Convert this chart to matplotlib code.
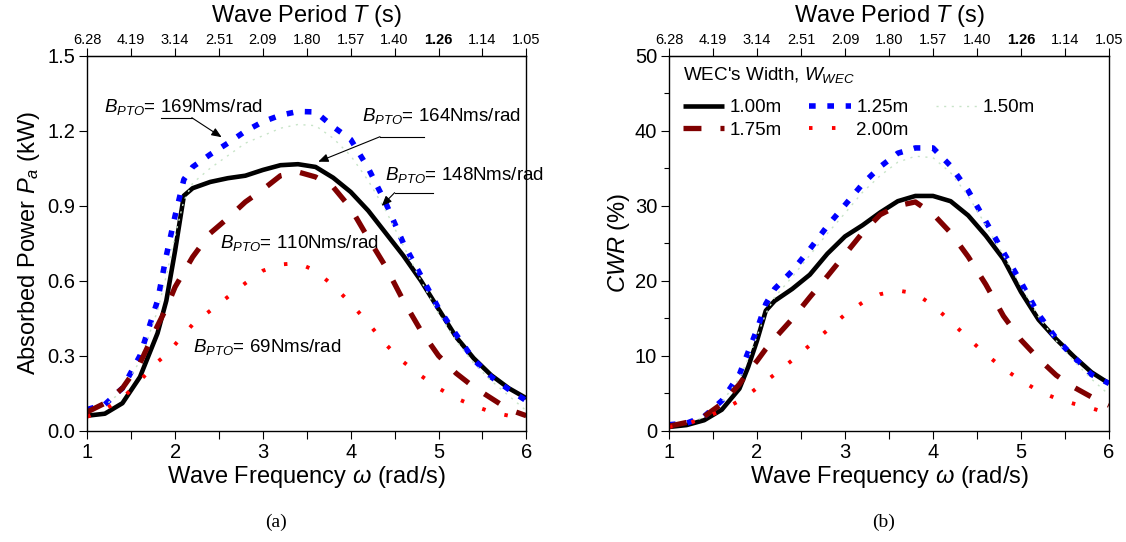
import numpy as np
import matplotlib
matplotlib.use("Agg")
import matplotlib.pyplot as plt

plt.rcParams['font.family'] = ['Liberation Sans', 'DejaVu Sans']
plt.rcParams['mathtext.fontset'] = 'custom'
plt.rcParams['mathtext.rm'] = 'Liberation Sans'
plt.rcParams['mathtext.it'] = 'Liberation Sans:italic'
plt.rcParams['mathtext.bf'] = 'Liberation Sans:bold'

# ---------------- data ----------------
omega = [1.0, 1.2, 1.4, 1.6, 1.8, 1.9, 2.0, 2.1, 2.2, 2.4, 2.6, 2.8, 3.0, 3.2,
         3.4, 3.6, 3.8, 4.0, 4.2, 4.4, 4.6, 4.8, 5.0, 5.2, 5.4, 5.6, 5.8, 6.0]

# (a) absorbed power (kW)
pa_100 = [0.060, 0.068, 0.110, 0.215, 0.390, 0.520, 0.720, 0.940, 0.970, 0.995, 1.010, 1.020, 1.043, 1.062,
          1.066, 1.055, 1.012, 0.955, 0.880, 0.790, 0.700, 0.600, 0.487, 0.375, 0.290, 0.222, 0.170, 0.130]
pa_125 = [0.085, 0.105, 0.170, 0.300, 0.520, 0.700, 0.860, 1.005, 1.055, 1.105, 1.150, 1.198, 1.236, 1.262,
          1.277, 1.275, 1.216, 1.165, 1.050, 0.910, 0.750, 0.620, 0.490, 0.385, 0.285, 0.215, 0.165, 0.120]
pa_150 = [0.080, 0.100, 0.160, 0.280, 0.480, 0.620, 0.780, 0.920, 0.990, 1.050, 1.100, 1.150, 1.180, 1.210,
          1.225, 1.220, 1.170, 1.100, 1.000, 0.880, 0.740, 0.600, 0.470, 0.360, 0.270, 0.200, 0.140, 0.080]
pa_175 = [0.075, 0.110, 0.170, 0.270, 0.420, 0.490, 0.575, 0.635, 0.695, 0.790, 0.850, 0.915, 0.965, 1.020,
          1.035, 1.015, 0.975, 0.890, 0.770, 0.655, 0.520, 0.400, 0.300, 0.230, 0.175, 0.130, 0.085, 0.060]
pa_200 = [0.056, 0.085, 0.130, 0.200, 0.275, 0.305, 0.345, 0.385, 0.425, 0.480, 0.535, 0.590, 0.640, 0.665,
          0.670, 0.640, 0.580, 0.510, 0.430, 0.345, 0.275, 0.220, 0.170, 0.130, 0.100, 0.075, 0.060, 0.045]

# (b) capture width ratio (%)
cwr_100 = [0.5, 0.75, 1.4, 2.8, 5.6, 8.5, 12.0, 16.0, 17.3, 18.9, 20.8, 23.6, 25.9, 27.4,
           29.1, 30.6, 31.3, 31.3, 30.6, 28.7, 26.0, 22.9, 18.5, 14.8, 12.2, 9.9, 7.8, 6.3]
cwr_125 = [0.8, 1.0, 1.9, 4.0, 7.5, 10.5, 13.5, 16.9, 18.9, 21.3, 24.2, 27.3, 30.1, 32.9,
           35.2, 37.0, 37.7, 37.7, 35.3, 32.0, 27.9, 23.8, 19.8, 15.5, 12.3, 9.8, 7.5, 6.3]
cwr_150 = [0.7, 1.0, 1.8, 3.8, 7.0, 9.6, 12.6, 15.6, 17.8, 20.5, 23.4, 26.3, 29.0, 31.8,
           34.0, 35.8, 36.6, 36.4, 34.4, 31.3, 27.4, 23.4, 19.3, 15.2, 12.0, 9.3, 6.9, 4.8]
cwr_175 = [0.6, 1.1, 1.9, 3.6, 6.2, 7.9, 9.3, 10.9, 12.3, 14.9, 17.8, 20.6, 23.5, 26.4,
           28.8, 30.0, 30.5, 28.9, 26.4, 23.2, 19.5, 15.3, 12.1, 9.6, 7.4, 5.8, 4.5, 3.4]
cwr_200 = [0.5, 0.9, 1.7, 2.7, 4.0, 4.8, 5.7, 6.6, 7.5, 9.4, 11.4, 13.4, 15.5, 17.1,
           18.2, 18.7, 18.3, 16.7, 14.6, 12.3, 10.2, 8.3, 6.7, 5.3, 4.3, 3.6, 3.0, 2.3]

width_labels = ['1.00m', '1.25m', '1.50m', '1.75m', '2.00m']
freq_ticks = [1.0, 1.5, 2.0, 2.5, 3.0, 3.5, 4.0, 4.5, 5.0, 5.5, 6.0]
period_labels = ['6.28', '4.19', '3.14', '2.51', '2.09', '1.80', '1.57', '1.40', '1.26', '1.14', '1.05']

# styles
styles = [
    dict(color='black', lw=3.3, linestyle='-', solid_capstyle='butt'),
    dict(color='#0000ff', lw=4.0, linestyle=(0, (1.2, 2.1))),
    dict(color='#c8e4c8', lw=1.0, linestyle=(0, (1.5, 4))),
    dict(color='#800000', lw=3.8, linestyle=(0, (3.4, 3.6))),
    dict(color='#ff0000', lw=2.8, linestyle=(0, (0.9, 5.0))),
]

W, H = 1126, 542
fig = plt.figure(figsize=(W / 100, H / 100), dpi=100)
ax1 = fig.add_axes([87.3 / W, 1 - 430.7 / H, 439 / W, 375 / H])
ax2 = fig.add_axes([669 / W, 1 - 430.7 / H, 440 / W, 375 / H])

def style_axes(ax):
    ax.set_xlim(1, 6)
    ax.set_xticks([1, 2, 3, 4, 5, 6])
    ax.set_xticks([1.5, 2.5, 3.5, 4.5, 5.5], minor=True)
    ax.tick_params(axis='both', which='major', direction='out', length=5.5, width=0.8,
                   labelsize=14.5, pad=3)
    ax.tick_params(axis='both', which='minor', direction='out', length=5.5, width=0.8)
    for s in ax.spines.values():
        s.set_linewidth(1.0)
    ax.set_xlabel(r'Wave Frequency $\omega$ (rad/s)', fontsize=17, labelpad=2)
    sec = ax.secondary_xaxis('top')
    sec.set_xticks(freq_ticks)
    sec.set_xticklabels(period_labels)
    sec.tick_params(direction='out', length=5.5, width=0.8, labelsize=10.5, pad=1)
    for lab in sec.get_xticklabels():
        if lab.get_text() == '1.26':
            lab.set_fontweight('bold')
    sec.set_xlabel(r'Wave Period $T$ (s)', fontsize=17, labelpad=8)
    return sec

# ---- panel (a)
series_a = [pa_100, pa_125, pa_150, pa_175, pa_200]
for vals, st, lab in zip(series_a, styles, width_labels):
    ax1.plot(omega, vals, label=lab, **st)
style_axes(ax1)
ax1.set_ylim(0, 1.5)
ax1.set_yticks([0.0, 0.3, 0.6, 0.9, 1.2, 1.5])
ax1.set_yticklabels(['0.0', '0.3', '0.6', '0.9', '1.2', '1.5'])
ax1.set_ylabel(r'Absorbed Power $P_a$ (kW)', fontsize=17, labelpad=4)

ann_fs = 13.5
ann_kw = dict(arrowstyle='-|>,head_length=0.6,head_width=0.25', lw=0.8, color='black',
              shrinkA=0, shrinkB=0)
# 169
ax1.text(1.194, 1.275, r'$B_{PTO}$= 169Nms/rad', fontsize=ann_fs, ha='left', va='baseline')
ax1.plot([1.84, 2.19], [1.252, 1.252], color='black', lw=0.8)
ax1.annotate('', xy=(2.53, 1.174), xytext=(2.19, 1.252), arrowprops=ann_kw)
# 164
ax1.text(4.125, 1.24, r'$B_{PTO}$= 164Nms/rad', fontsize=ann_fs, ha='left', va='baseline')
ax1.plot([4.334, 4.83], [1.176, 1.176], color='black', lw=0.8)
ax1.annotate('', xy=(3.63, 1.076), xytext=(4.334, 1.176), arrowprops=ann_kw)
# 148
ax1.text(4.39, 1.003, r'$B_{PTO}$= 148Nms/rad', fontsize=ann_fs, ha='left', va='baseline',
         clip_on=False)
ax1.plot([4.50, 4.94], [0.952, 0.952], color='black', lw=0.8)
ax1.annotate('', xy=(4.353, 0.899), xytext=(4.50, 0.952), arrowprops=ann_kw)
# 110
ax1.text(2.507, 0.731, r'$B_{PTO}$= 110Nms/rad', fontsize=ann_fs, ha='left', va='baseline')
# 69
ax1.text(2.203, 0.315, r'$B_{PTO}$= 69Nms/rad', fontsize=ann_fs, ha='left', va='baseline')

# ---- panel (b)
series_b = [cwr_100, cwr_125, cwr_150, cwr_175, cwr_200]
lines_b = []
for vals, st, lab in zip(series_b, styles, width_labels):
    ln, = ax2.plot(omega, vals, label=lab, **st)
    lines_b.append(ln)
style_axes(ax2)
ax2.set_ylim(0, 50)
ax2.set_yticks([0, 10, 20, 30, 40, 50])
ax2.set_yticks([5, 15, 25, 35, 45], minor=True)
ax2.tick_params(axis='y', which='minor', length=3.5)
ax2.set_ylabel(r'$CWR$ (%)', fontsize=17, labelpad=2)

order = [0, 3, 1, 4, 2]
leg = ax2.legend([lines_b[i] for i in order], [width_labels[i] for i in order],
                 ncol=3, loc='upper left', bbox_to_anchor=(0.0, 1.013),
                 title=r"WEC's Width, $W_{WEC}$", title_fontsize=13.6,
                 fontsize=13.5, frameon=False, handlelength=2.2, handletextpad=0.3,
                 columnspacing=1.45, labelspacing=0.3, borderaxespad=0.45,
                 borderpad=0.3, alignment='left')
leg._legend_box.sep = 0.75 * 13.5

fig.text(276 / W, 1 - 522 / H, '(a)', fontsize=14, family='Liberation Serif',
         ha='center', va='center')
fig.text(884 / W, 1 - 522 / H, '(b)', fontsize=14, family='Liberation Serif',
         ha='center', va='center')

fig.savefig('out.png', dpi=100)
